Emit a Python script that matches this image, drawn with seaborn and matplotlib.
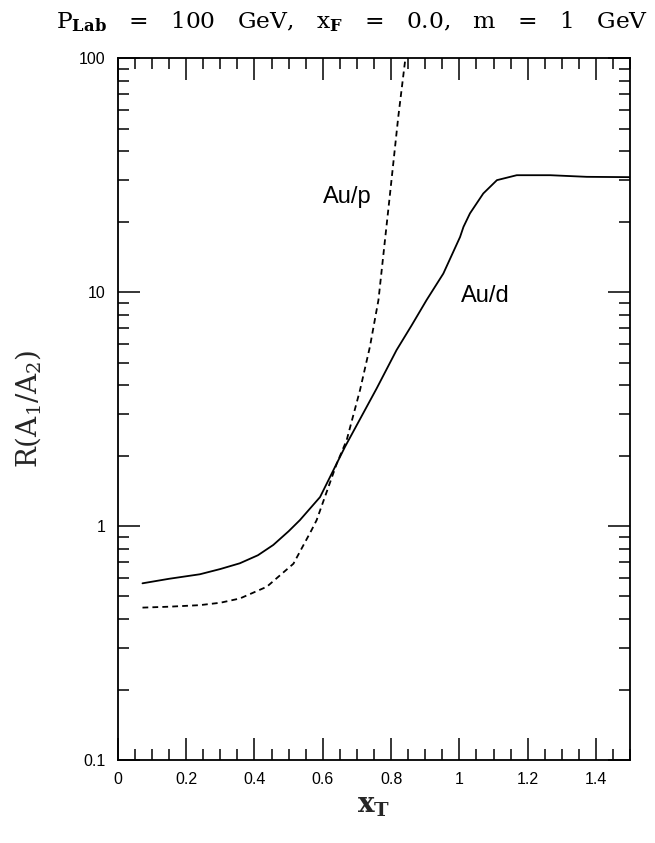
import numpy as np
import pandas as pd
import seaborn as sns
import matplotlib
matplotlib.use("Agg")
import matplotlib.pyplot as plt
from matplotlib.ticker import MultipleLocator, LogLocator, NullFormatter, FixedLocator, FixedFormatter

# ---- data ----
aud_x = [0.072, 0.15, 0.24, 0.30, 0.357, 0.41, 0.455, 0.50, 0.533, 0.592, 0.665,
         0.758, 0.816, 0.860, 0.904, 0.953, 1.002, 1.012, 1.031, 1.070, 1.11,
         1.168, 1.266, 1.373, 1.5]
aud_y = [0.569, 0.595, 0.622, 0.655, 0.693, 0.75, 0.83, 0.95, 1.06, 1.33, 2.18,
         3.88, 5.65, 7.2, 9.25, 12.0, 17.2, 19.0, 21.7, 26.4, 30.1,
         31.6, 31.6, 31.1, 31.0]

aup_x = [0.072, 0.15, 0.24, 0.30, 0.357, 0.436, 0.514, 0.567, 0.582, 0.641, 0.67,
         0.709, 0.738, 0.763, 0.797, 0.821, 0.842]
aup_y = [0.448, 0.452, 0.459, 0.47, 0.49, 0.55, 0.69, 0.96, 1.06, 1.85, 2.33,
         3.81, 5.84, 9.25, 26.4, 56.0, 100.0]

x_ticks = [0, 0.2, 0.4, 0.6, 0.8, 1.0, 1.2, 1.4]
x_tick_labels = ["0", "0.2", "0.4", "0.6", "0.8", "1", "1.2", "1.4"]
y_ticks = [0.1, 1, 10, 100]
y_tick_labels = ["0.1", "1", "10", "100"]

labels = [("Au/p", 0.60, 25.5), ("Au/d", 1.005, 9.6)]

df = pd.concat([
    pd.DataFrame({"x": aud_x, "y": aud_y, "series": "Au/d"}),
    pd.DataFrame({"x": aup_x, "y": aup_y, "series": "Au/p"}),
], ignore_index=True)

sns.set_style("ticks")
plt.rcParams["font.family"] = ["Liberation Sans", "DejaVu Sans"]
plt.rcParams["mathtext.fontset"] = "dejavuserif"

fig = plt.figure(figsize=(6.55, 8.43), dpi=100)
ax = fig.add_axes([0.180, 0.0985, 0.782, 0.8325])

sns.lineplot(data=df, x="x", y="y", hue="series", style="series",
             hue_order=["Au/d", "Au/p"], style_order=["Au/d", "Au/p"],
             palette={"Au/d": "black", "Au/p": "black"},
             dashes={"Au/d": "", "Au/p": (3.2, 2.3)},
             linewidth=1.3, sort=False, estimator=None, legend=False, ax=ax)

ax.set_yscale("log")
ax.set_xlim(0, 1.5)
ax.set_ylim(0.1, 100)

ax.xaxis.set_major_locator(FixedLocator(x_ticks))
ax.xaxis.set_major_formatter(FixedFormatter(x_tick_labels))
ax.xaxis.set_minor_locator(MultipleLocator(0.05))
ax.yaxis.set_major_locator(FixedLocator(y_ticks))
ax.yaxis.set_major_formatter(FixedFormatter(y_tick_labels))
ax.yaxis.set_minor_locator(LogLocator(base=10, subs=np.arange(2, 10), numticks=20))
ax.yaxis.set_minor_formatter(NullFormatter())

ax.tick_params(which="both", direction="in", top=True, right=True, width=1.1,
               colors="black", labelsize=11.5)
ax.tick_params(which="major", length=16, pad=9)
ax.tick_params(which="minor", length=8)
for sp in ax.spines.values():
    sp.set_linewidth(1.3)
    sp.set_color("black")

for txt, lx, ly in labels:
    ax.text(lx, ly, txt, fontsize=17, ha="left", va="center", color="black")

ax.set_xlabel(r"$\mathbf{x_T}$", fontsize=20, labelpad=4)
ax.set_ylabel(r"$\mathrm{R(A_1/A_2)}$", fontsize=20, labelpad=26)

fig.text(0.537, 1 - 28 / 843,
         r"$\mathrm{P}_{\mathbf{Lab}}$   =   100   GeV,   $\mathrm{x}_{\mathbf{F}}$   =   0.0,   m   =   1   GeV",
         ha="center", va="baseline", fontsize=16.8, fontfamily="DejaVu Serif",
         color="black")

fig.savefig("out.png", dpi=100, facecolor="white")
